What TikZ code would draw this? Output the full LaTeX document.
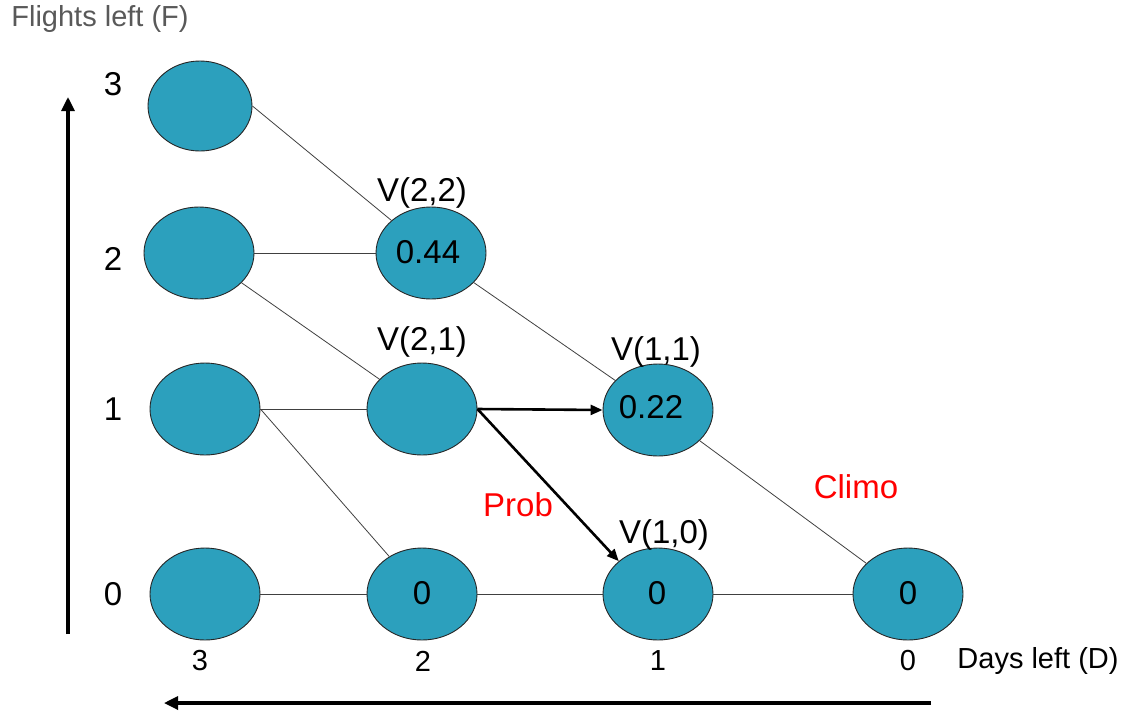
\documentclass[tikz,border=0pt]{standalone}
\usepackage{fontspec}
\setmainfont{Liberation Sans}
\usetikzlibrary{shapes.geometric,arrows.meta}
\definecolor{nodefill}{RGB}{44,160,189}
\definecolor{titlegrey}{RGB}{89,89,89}
\begin{document}
\begin{tikzpicture}[x=1pt,y=-1pt,
  st/.style={ellipse, draw=black!85, fill=nodefill, line width=0.9pt,
    minimum width=110pt, minimum height=92pt, inner sep=0pt},
  lbl/.style={inner sep=0pt, font=\fontsize{33}{37}\selectfont},
  ttl/.style={inner sep=0pt, font=\fontsize{29}{33}\selectfont},
  edge/.style={draw=black!75, line width=0.8pt},
  bold/.style={draw=black, line width=2.6pt, -{Triangle[length=12pt,width=10pt]}},
  axis/.style={draw=black, line width=3.2pt, -{Triangle[length=14pt,width=13pt]}}
]
\useasboundingbox (0,0) rectangle (1129,713);

% nodes: aDF (days left D, flights left F)
\node[st, minimum width=104pt, minimum height=90pt] (a33) at (200,106) {};
\node[st] (a32) at (199,253) {};
\node[st] (a22) at (431,253) {};
\node[st] (a31) at (205,409) {};
\node[st] (a21) at (422,409) {};
\node[st] (a11) at (658,410) {};
\node[st] (a30) at (205,594) {};
\node[st] (a20) at (422,594) {};
\node[st] (a10) at (658,594) {};
\node[st] (a00) at (908,594) {};

% values
\node[lbl] (v22) at (428,252) {0.44};
\node[lbl] (v11) at (651,407) {0.22};
\node[lbl] (v20) at (422,593) {0};
\node[lbl] (v10) at (657,593) {0};
\node[lbl] (v00) at (908,593) {0};

% V labels
\node[lbl] (l22) at (422,193) {V(2,2)};
\node[lbl] (l21) at (422,342) {V(2,1)};
\node[lbl] (l11) at (656,352) {V(1,1)};
\node[lbl] (l10) at (664,535) {V(1,0)};

% thin connectors
\draw[edge] (a33.east) -- (a22);
\draw[edge] (a32.east) -- (a22.west);
\draw[edge] (a32) -- (a21);
\draw[edge] (a22) -- (a11);
\draw[edge] (a31.east) -- (a21.west);
\draw[edge] (a31.east) -- (a20);
\draw[edge] (a11) -- (a00);
\draw[edge] (a30.east) -- (a20.west);
\draw[edge] (a20.east) -- (a10.west);
\draw[edge] (a10.east) -- (a00.west);

% bold arrows
\draw[bold] (a21.east) -- (a11.west);
\draw[bold] (a21.east) -- (a10.north west);

% red labels
\node[lbl, text=red] (prob) at (518,505) {Prob};
\node[lbl, text=red] (climo) at (856,487) {Climo};

% axis numbers
\node[lbl] (f3) at (113,84) {3};
\node[lbl] (f2) at (113,259) {2};
\node[lbl] (f1) at (113,409) {1};
\node[lbl] (f0) at (113,594) {0};
\node[ttl] (d3) at (200,661) {3};
\node[ttl] (d2) at (423,661) {2};
\node[ttl] (d1) at (658,661) {1};
\node[ttl] (d0) at (908,661) {0};
\node[ttl] (dtitle) at (1038,661) {Days left (D)};
\node[ttl, text=titlegrey] (ftitle) at (100,19) {Flights left (F)};

% axis arrows
\coordinate (vb) at (68,634);
\coordinate (vt) at (68,97);
\coordinate (hb) at (931,703);
\coordinate (ht) at (164,703);
\draw[axis] (vb) -- (vt);
\draw[axis] (hb) -- (ht);
\end{tikzpicture}
\end{document}
